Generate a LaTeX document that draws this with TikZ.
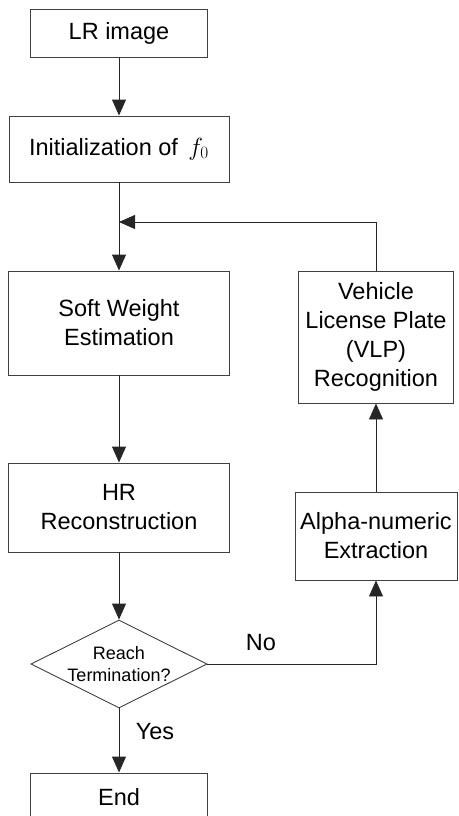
\documentclass[tikz,border=0pt]{standalone}
\usepackage{fontspec}
\setmainfont{Liberation Sans}
\usetikzlibrary{arrows.meta,shapes.geometric}
\begin{document}
\begin{tikzpicture}[x=1pt,y=-1pt,
 box/.style={draw=black!75, line width=0.9pt, inner sep=0pt, align=center, font=\fontsize{23.5}{29}\selectfont},
 arr/.style={draw=black!85, line width=0.9pt, -{Triangle[length=16pt,width=14pt]}},
 lbl/.style={font=\fontsize{23.5}{29}\selectfont}]
\useasboundingbox (0,0) rectangle (458,816);
\node[box, minimum width=177pt, minimum height=48pt] (lr) at (119,33) {LR image};
\node[box, minimum width=220pt, minimum height=66pt] (init) at (119,149) {Initialization of \,{\fontsize{27}{29}\selectfont$f_0$}};
\node[box, minimum width=221pt, minimum height=104pt] (soft) at (119,323) {Soft Weight\\Estimation};
\node[box, minimum width=221pt, minimum height=89pt] (hr) at (119,507.5) {HR\\Reconstruction};
\node[draw=black!75, line width=0.9pt, diamond, minimum width=176pt, minimum height=88pt, inner sep=0pt] (dec) at (119,664) {};
\node[font=\fontsize{18}{21.5}\selectfont, align=center] (dect) at (dec) {Reach\\Termination?};
\node[box, minimum width=177pt, minimum height=48pt] (end) at (119,797) {End};
\node[box, minimum width=155pt, minimum height=132pt] (vlp) at (376,337) {Vehicle\\License Plate\\(VLP)\\Recognition};
\node[box, minimum width=162pt, minimum height=88pt] (alpha) at (376,536) {Alpha-numeric\\Extraction};
\coordinate (j) at (119,222);
\draw[arr] (lr) -- (init);
\draw[arr] (init) -- (soft);
\draw[arr] (vlp.north) |- (j);
\draw[arr] (soft) -- (hr);
\draw[arr] (hr) -- (dec);
\draw[arr] (dec) -- (end);
\draw[arr] (dec.east) -| (alpha.south);
\draw[arr] (alpha) -- (vlp);
\node[lbl] (no) at (261,643) {No};
\node[lbl] (yes) at (155,732) {Yes};
\end{tikzpicture}
\end{document}
